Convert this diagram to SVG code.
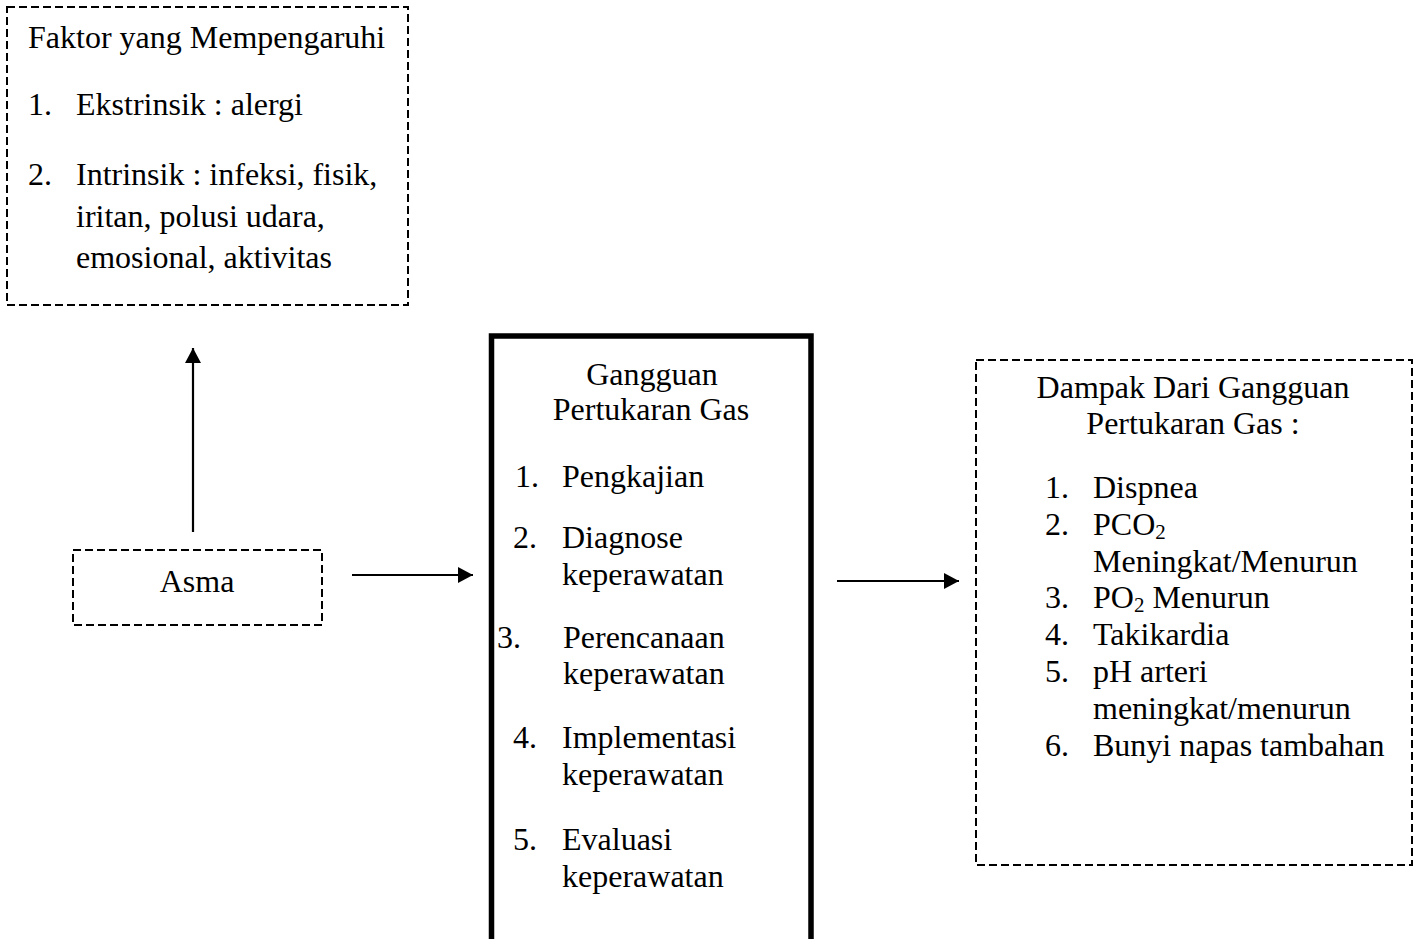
<svg xmlns="http://www.w3.org/2000/svg" width="1418" height="939" viewBox="0 0 1418 939">
<style>
text{font-family:"Liberation Serif","Times New Roman",serif;font-size:32px;fill:#000}
.c{text-anchor:middle}
.dash{fill:none;stroke:#000;stroke-width:2;stroke-dasharray:8 4}
.solid{fill:none;stroke:#000;stroke-width:5.5}
.conn{fill:none;stroke:#000;stroke-width:2.2}
</style>
<defs>
<marker id="ah" markerUnits="userSpaceOnUse" viewBox="0 0 15 16" markerWidth="15" markerHeight="16" refX="15" refY="8" orient="auto">
<path d="M0,0 L15,8 L0,16 z" fill="#000"/>
</marker>
</defs>
<rect width="1418" height="939" fill="#fff"/>
<g id="faktor">
<rect class="dash" x="7" y="7" width="401" height="298"/>
<text x="28" y="48">Faktor yang Mempengaruhi</text>
<text x="28" y="115">1.</text><text x="76" y="115">Ekstrinsik : alergi</text>
<text x="28" y="185">2.</text><text x="76" y="185">Intrinsik : infeksi, fisik,</text>
<text x="76" y="227">iritan, polusi udara,</text>
<text x="76" y="268">emosional, aktivitas</text>
</g>
<g id="asma">
<rect class="dash" x="73" y="550" width="249" height="75"/>
<text class="c" x="197" y="592">Asma</text>
</g>
<g id="gangguan">
<rect class="solid" x="491.5" y="336" width="319.5" height="700"/>
<text class="c" x="652" y="385">Gangguan</text>
<text class="c" x="651" y="420">Pertukaran Gas</text>
<text x="515" y="487">1.</text><text x="562" y="487">Pengkajian</text>
<text x="513" y="548">2.</text><text x="562" y="548">Diagnose</text>
<text x="562" y="585">keperawatan</text>
<text x="497" y="648">3.</text><text x="563" y="648">Perencanaan</text>
<text x="563" y="684">keperawatan</text>
<text x="513" y="748">4.</text><text x="562" y="748">Implementasi</text>
<text x="562" y="785">keperawatan</text>
<text x="513" y="850">5.</text><text x="562" y="850">Evaluasi</text>
<text x="562" y="887">keperawatan</text>
</g>
<g id="dampak">
<rect class="dash" x="976" y="360" width="436" height="505"/>
<text class="c" x="1193" y="398">Dampak Dari Gangguan</text>
<text class="c" x="1193" y="434">Pertukaran Gas :</text>
<text x="1045" y="498">1.</text><text x="1093" y="498">Dispnea</text>
<text x="1045" y="535">2.</text><text x="1093" y="535">PCO<tspan font-size="21" dy="4">2</tspan></text>
<text x="1093" y="572">Meningkat/Menurun</text>
<text x="1045" y="608">3.</text><text x="1093" y="608">PO<tspan font-size="21" dy="4">2</tspan><tspan dy="-4"> Menurun</tspan></text>
<text x="1045" y="645">4.</text><text x="1093" y="645">Takikardia</text>
<text x="1045" y="682">5.</text><text x="1093" y="682">pH arteri</text>
<text x="1093" y="719">meningkat/menurun</text>
<text x="1045" y="756">6.</text><text x="1093" y="756">Bunyi napas tambahan</text>
</g>
<g id="connectors">
<line class="conn" x1="193" y1="532" x2="193" y2="348" marker-end="url(#ah)"/>
<line class="conn" x1="352" y1="575" x2="473" y2="575" marker-end="url(#ah)"/>
<line class="conn" x1="837" y1="581" x2="959" y2="581" marker-end="url(#ah)"/>
</g>
</svg>
